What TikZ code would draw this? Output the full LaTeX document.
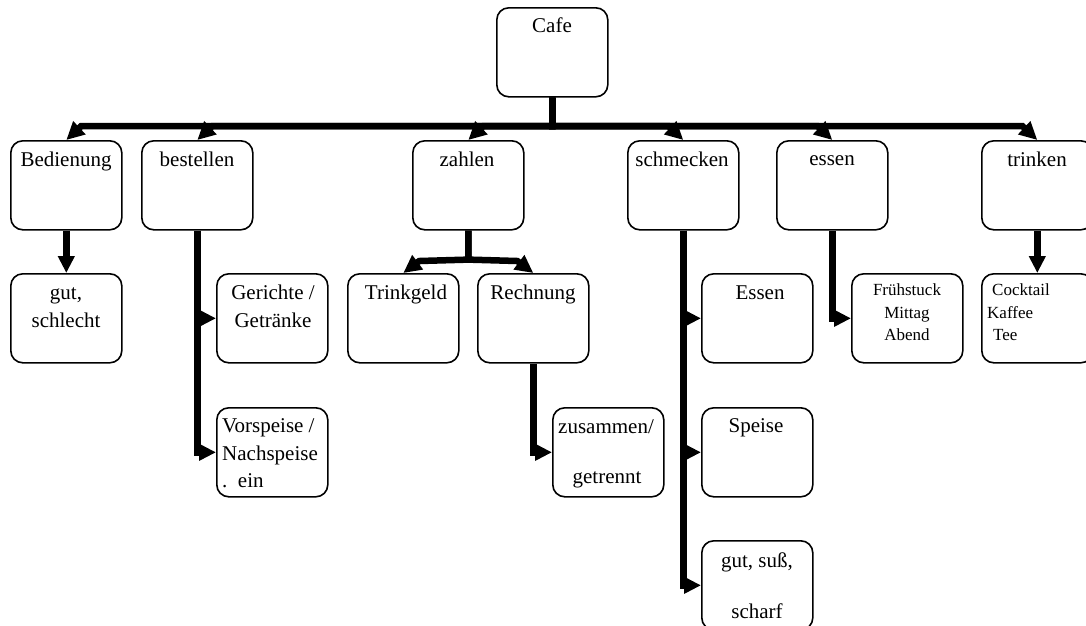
\documentclass[tikz,border=0pt]{standalone}
\usepackage{fontspec}
\setmainfont{Liberation Serif}
\usetikzlibrary{arrows.meta,calc}
\begin{document}
\begin{tikzpicture}[x=1pt,y=-1pt,
  box/.style={draw, line width=1.6pt, rounded corners=12pt, minimum width=111pt,
    minimum height=89pt, inner sep=0pt, anchor=north west},
  lab/.style={font=\fontsize{21}{25}\selectfont, inner sep=0pt, anchor=base},
  labl/.style={lab, anchor=base west},
  labs/.style={font=\fontsize{17}{20}\selectfont, inner sep=0pt, anchor=base},
  labsl/.style={labs, anchor=base west},
  conn/.style={line width=6.5pt, -{Triangle[length=17pt,width=16pt]}},
  slant/.style={line width=6.5pt, -{Triangle[length=18pt,width=17pt]}}]
\useasboundingbox (0,0) rectangle (1086,625);

% boxes
\node[box] (cafe) at (496,7) {};
\node[box] (bed) at (10,140) {};
\node[box] (bes) at (141,140) {};
\node[box] (zah) at (412,140) {};
\node[box] (sch) at (627,140) {};
\node[box] (ess) at (776,140) {};
\node[box] (tri) at (981,140) {};
\node[box] (gut) at (10,273) {};
\node[box] (ger) at (216,273) {};
\node[box] (tgd) at (347,273) {};
\node[box] (rec) at (477,273) {};
\node[box] (esn) at (701,273) {};
\node[box] (fru) at (851,273) {};
\node[box] (coc) at (981,273) {};
\node[box] (vor) at (216,407) {};
\node[box] (zus) at (552,407) {};
\node[box] (spe) at (701,407) {};
\node[box] (gsu) at (701,540) {};

% labels
\node[lab] (tcafe) at (552,32) {Cafe};
\node[lab] (tbed) at (66,166) {Bedienung};
\node[lab] (tbes) at (197,166) {bestellen};
\node[lab] (tzah) at (467,166) {zahlen};
\node[lab] (tsch) at (682,166) {schmecken};
\node[lab] (tess) at (832,165) {essen};
\node[lab] (ttri) at (1037,166) {trinken};
\node[lab] (tgut1) at (66,299) {gut,};
\node[lab] (tgut2) at (66,327) {schlecht};
\node[lab] (tger1) at (273,299) {Gerichte /};
\node[lab] (tger2) at (273,327) {Getränke};
\node[lab] (ttgd) at (406,299) {Trinkgeld};
\node[lab] (trec) at (533,299) {Rechnung};
\node[lab] (tesn) at (760,299) {Essen};
\node[labs] (tfru1) at (907,295) {Frühstuck};
\node[labs] (tfru2) at (907,318) {Mittag};
\node[labs] (tfru3) at (907,340) {Abend};
\node[labsl] (tcoc1) at (992,295) {Cocktail};
\node[labsl] (tcoc2) at (987,318) {Kaffee};
\node[labsl] (tcoc3) at (993,340) {Tee};
\node[labl] (tvor1) at (222,432) {Vorspeise /};
\node[labl] (tvor2) at (222,460) {Nachspeise};
\node[labl] (tvor3) at (222,487) {.~~ein};
\node[lab] (tzus1) at (606,433) {zusammen/};
\node[lab] (tzus2) at (607,483) {getrennt};
\node[lab] (tspe) at (756,432) {Speise};
\node[lab] (tgsu1) at (757,567) {gut, suß,};
\node[lab] (tgsu2) at (757,618) {scharf};

% top level: stem, bar and slanted arrow ends
\draw[slant] (cafe.south) |- ($(bed.north)+(15,-14)$) -- (bed.north);
\draw[slant] (cafe.south) |- ($(bes.north)+(15,-14)$) -- (bes.north);
\draw[slant] (cafe.south) |- ($(zah.north)+(15,-14)$) -- (zah.north);
\draw[slant] (cafe.south) |- ($(sch.north)+(-15,-14)$) -- (sch.north);
\draw[slant] (cafe.south) |- ($(ess.north)+(-15,-14)$) -- (ess.north);
\draw[slant] (cafe.south) |- ($(tri.north)+(-15,-14)$) -- (tri.north);

% straight down
\draw[conn] (bed.south) -- (gut.north);
\draw[conn] (tri.south) -- (coc.north);

% zahlen fork
\coordinate (zfork) at ($(zah.south)+(0,29)$);
\draw[slant] (zah.south) -- (zfork) -- ($(tgd.north)+(16,-12)$) -- (tgd.north);
\draw[slant] (zah.south) -- (zfork) -- ($(rec.north)+(-16,-12)$) -- (rec.north);

% side branches
\draw[conn] (bes.south) |- (ger.west);
\draw[conn] (bes.south) |- (vor.west);
\draw[conn] (rec.south) |- (zus.west);
\draw[conn] (sch.south) |- (esn.west);
\draw[conn] (sch.south) |- (spe.west);
\draw[conn] (sch.south) |- (gsu.west);
\draw[conn] (ess.south) |- (fru.west);
\end{tikzpicture}
\end{document}
